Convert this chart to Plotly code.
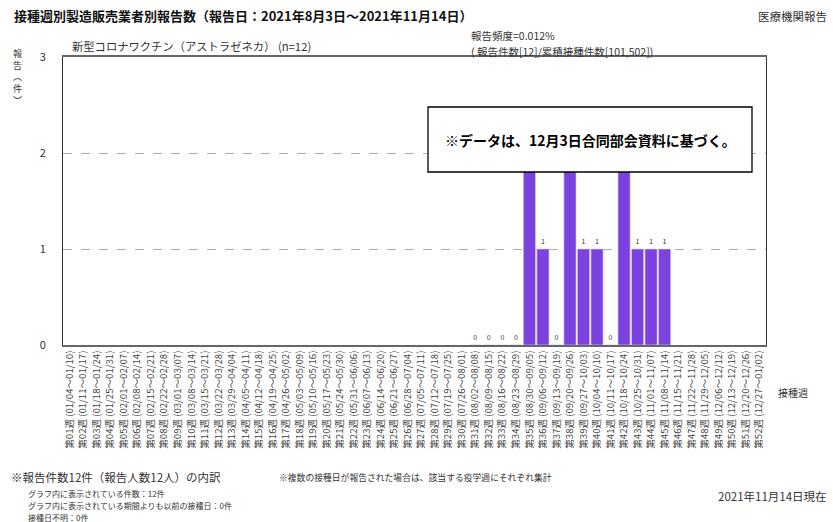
import plotly.graph_objects as go

week_labels = [
    "第01週 (01/04～01/10)", "第02週 (01/11～01/17)", "第03週 (01/18～01/24)", "第04週 (01/25～01/31)",
    "第05週 (02/01～02/07)", "第06週 (02/08～02/14)", "第07週 (02/15～02/21)", "第08週 (02/22～02/28)",
    "第09週 (03/01～03/07)", "第10週 (03/08～03/14)", "第11週 (03/15～03/21)", "第12週 (03/22～03/28)",
    "第13週 (03/29～04/04)", "第14週 (04/05～04/11)", "第15週 (04/12～04/18)", "第16週 (04/19～04/25)",
    "第17週 (04/26～05/02)", "第18週 (05/03～05/09)", "第19週 (05/10～05/16)", "第20週 (05/17～05/23)",
    "第21週 (05/24～05/30)", "第22週 (05/31～06/06)", "第23週 (06/07～06/13)", "第24週 (06/14～06/20)",
    "第25週 (06/21～06/27)", "第26週 (06/28～07/04)", "第27週 (07/05～07/11)", "第28週 (07/12～07/18)",
    "第29週 (07/19～07/25)", "第30週 (07/26～08/01)", "第31週 (08/02～08/08)", "第32週 (08/09～08/15)",
    "第33週 (08/16～08/22)", "第34週 (08/23～08/29)", "第35週 (08/30～09/05)", "第36週 (09/06～09/12)",
    "第37週 (09/13～09/19)", "第38週 (09/20～09/26)", "第39週 (09/27～10/03)", "第40週 (10/04～10/10)",
    "第41週 (10/11～10/17)", "第42週 (10/18～10/24)", "第43週 (10/25～10/31)", "第44週 (11/01～11/07)",
    "第45週 (11/08～11/14)", "第46週 (11/15～11/21)", "第47週 (11/22～11/28)", "第48週 (11/29～12/05)",
    "第49週 (12/06～12/12)", "第50週 (12/13～12/19)", "第51週 (12/20～12/26)", "第52週 (12/27～01/02)",
]

report_counts = [None] * 30 + [0, 0, 0, 0, 2, 1, 0, 2, 1, 1, 0, 2, 1, 1, 1] + [None] * 7
# labels of the tallest bars are hidden under the note box in the reference
report_text = ["" if (v is None or v >= 2) else str(v) for v in report_counts]

y_ticks = [0, 1, 2, 3]

FONT = "Noto Sans CJK JP, Noto Sans, sans-serif"

# plot area in pixels
L, R, T, B = 63, 766, 57, 345
W, H = R - L, B - T


def px(x):
    return (x - L) / W


def py(y):
    return (B - y) / H


fig = go.Figure()
fig.add_trace(go.Bar(
    x=week_labels, y=report_counts, text=report_text, textposition="outside",
    textfont=dict(size=7, color="#333"), cliponaxis=False,
    marker=dict(color="#7B42E0", line=dict(color="#D8D0F0", width=0.6)),
    hoverinfo="x+y",
))

fig.update_layout(
    width=833, height=522,
    margin=dict(l=L, r=833 - R, t=T, b=522 - B),
    paper_bgcolor="white", plot_bgcolor="white",
    font=dict(family=FONT, color="#333"),
    bargap=0.1, showlegend=False,
    xaxis=dict(
        type="category", tickangle=-90, tickfont=dict(size=9.6, color="#444"),
        showline=True, linecolor="#666", linewidth=1.5, mirror=True,
        showgrid=False, ticks="", ticklen=0, automargin=False,
    ),
    yaxis=dict(
        range=[0, 3], tickvals=y_ticks, tickfont=dict(size=11, color="#333"),
        showline=True, linecolor="#333", linewidth=1, mirror=True,
        showgrid=True, gridcolor="#AAAAAA", griddash="dash", gridwidth=1,
        zeroline=False, ticks="", ticklabelstandoff=14, automargin=False,
    ),
)

fig.add_shape(type="rect", xref="paper", yref="paper",
              x0=px(428), x1=px(752), y0=py(172), y1=py(107),
              fillcolor="white", line=dict(color="black", width=1.3), layer="above")

ann = []


def add(text, x, y, size, xanchor="left", yanchor="middle", bold=False, color="#333"):
    ann.append(dict(text=f"<b>{text}</b>" if bold else text, xref="paper", yref="paper",
                    x=px(x), y=py(y), xanchor=xanchor, yanchor=yanchor, showarrow=False,
                    font=dict(size=size, color=color, family=FONT)))


add("接種週別製造販売業者別報告数（報告日：2021年8月3日～2021年11月14日）", 12, 15, 13, bold=True, color="#111")
add("医療機関報告", 829, 16, 11.5, xanchor="right")
add("新型コロナワクチン（アストラゼネカ） (n=12)", 70, 46, 11.3)
add("報告頻度=0.012%", 469, 36, 10.5)
add("( 報告件数[12]/累積接種件数[101,502])", 469, 51, 10.5)
add("※データは、12月3日合同部会資料に基づく。", 590, 140, 14, xanchor="center", bold=True, color="black")
add("報<br>告<br>︵<br>件<br>︶", 17, 77, 9, xanchor="center")
add("接種週", 793, 392, 10, xanchor="center")
add("※報告件数12件（報告人数12人）の内訳", 9, 477, 11.5)
add("※複数の接種日が報告された場合は、該当する疫学週にそれぞれ集計", 277, 477, 8.8)
add("グラフ内に表示されている件数：12件", 26, 493, 8)
add("グラフ内に表示されている期間よりも以前の接種日：0件", 26, 505, 8)
add("接種日不明：0件", 26, 517, 8)
add("2021年11月14日現在", 829, 496, 11.5, xanchor="right")

fig.update_layout(annotations=ann)
fig.write_html("out.html", config={"displayModeBar": False},
               post_script="document.body.style.margin='0';document.body.style.padding='0';")
